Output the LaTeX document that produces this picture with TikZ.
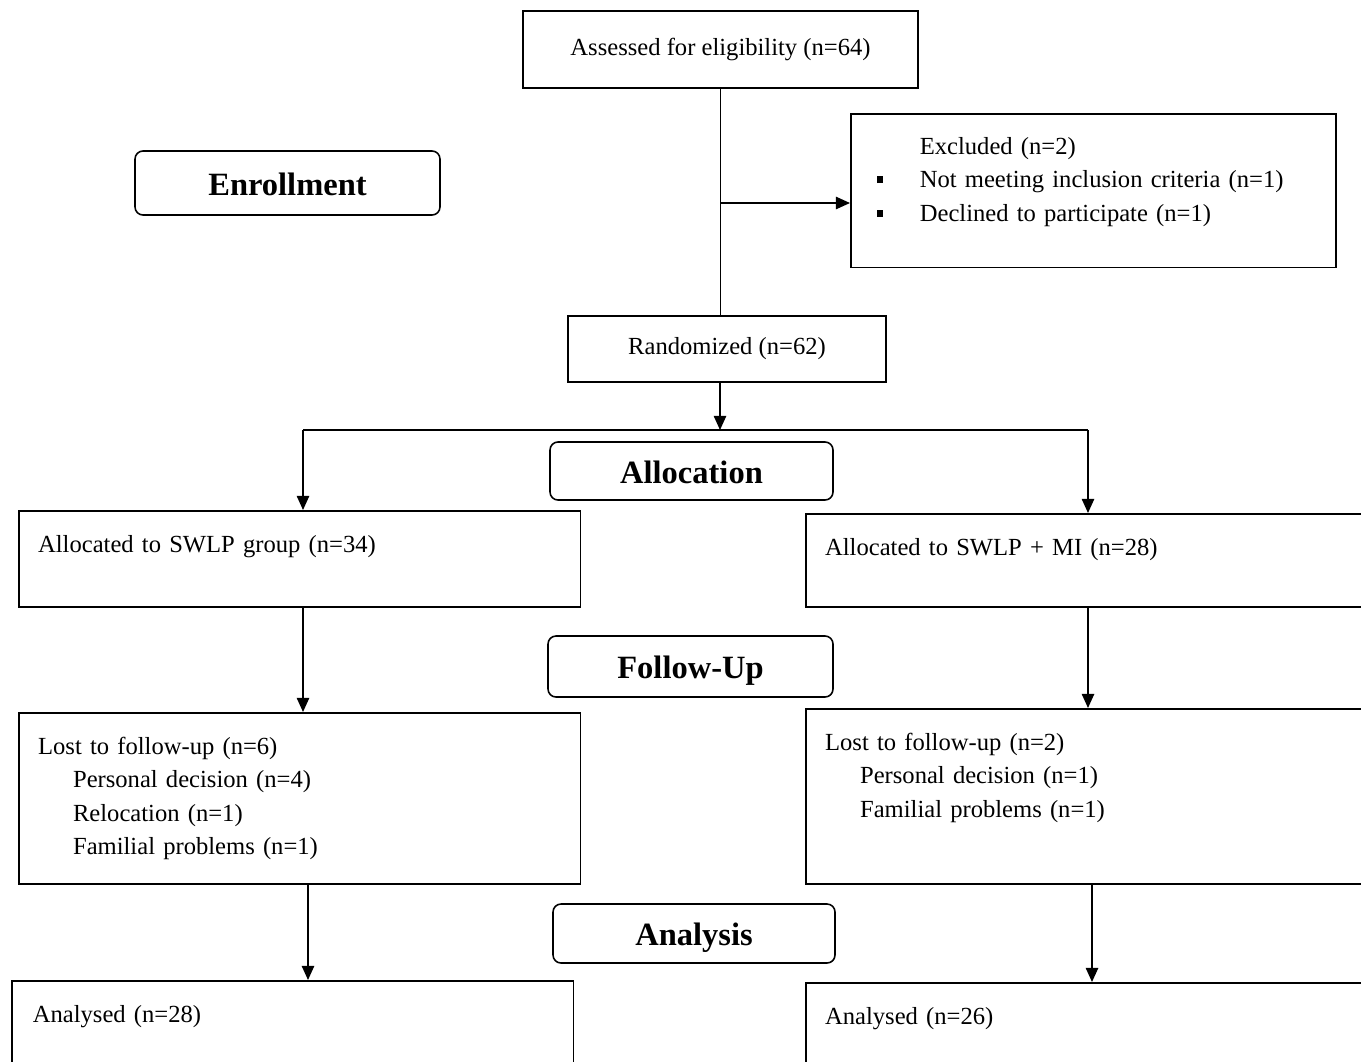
\documentclass[tikz,border=0pt]{standalone}
\usepackage{fontspec}
\setmainfont{Liberation Serif}
\usetikzlibrary{arrows.meta,
                positioning}
\tikzset{
        base/.style={draw, line width=0.9pt,
                     font=\fontsize{14}{19.1}\selectfont},
        proc/.style={base, rectangle, align=center},
        stage/.style={base, rectangle, rounded corners=4.5pt,
                      text height=14pt, text depth=0pt,
                      font=\fontsize{18.5}{22}\selectfont\bfseries},
        infobox/.style={base, rectangle, anchor=north west, align=left,
                        inner xsep=11pt, inner ysep=0pt, text height=23.5pt
                        },
        myarrow/.style={-{Triangle[width=7pt,length=8pt]}, line width=0.9pt},
        myline/.style={line width=0.9pt},
}
% kleines quadratisches Aufzaehlungszeichen
\newcommand{\sqbullet}{\makebox[24.5pt][l]{\raisebox{2.7pt}{\rule{3.8pt}{3.8pt}}}}
\newcommand{\indentitem}{\hspace*{19.9pt}}

\begin{document}
\begin{tikzpicture}[x=0.02cm, y=-0.02cm]
        \useasboundingbox (0,0) rectangle (1361,1061);
        \clip (0,0) rectangle (1361,1061);

        \node[proc, minimum width=7.9cm, minimum height=1.54cm]
              (assess) at (720.5,49.5) {Assessed for eligibility (n=64)};
        \node[stage, minimum width=6.1cm, minimum height=1.28cm]
              (enroll) at (287.5,183) {Enrollment};
        \node[infobox, inner xsep=14.8pt, text width=246.4pt,
              text height=23pt, text depth=64.6pt] (excl) at (850,113) {
              \hspace*{24.5pt}Excluded (n=2)\\
              \sqbullet Not meeting inclusion criteria (n=1)\\
              \sqbullet Declined to participate (n=1)};
        \node[proc, minimum width=6.36cm, minimum height=1.32cm]
              (rand) at (727,349) {Randomized (n=62)};

        \node[stage, minimum width=5.66cm, minimum height=1.16cm]
              (alloc) at (691.5,471) {Allocation};
        \node[infobox, text width=297.8pt, text depth=31.1pt]
              (swlp) at (18,510) {Allocated to SWLP group (n=34)};
        \node[infobox, text width=302.3pt, text depth=29.4pt]
              (swlpmi) at (805,513) {Allocated to SWLP + MI (n=28)};

        \node[stage, minimum width=5.7cm, minimum height=1.22cm]
              (follow) at (690.5,666.5) {Follow-Up};
        \node[infobox, text width=297.8pt, text depth=73.8pt]
              (lost1) at (18,712) {Lost to follow-up (n=6)\\
              \indentitem Personal decision (n=4)\\
              \indentitem Relocation (n=1)\\
              \indentitem Familial problems (n=1)};
        \node[infobox, text width=302.3pt, text depth=76.1pt]
              (lost2) at (805,708) {Lost to follow-up (n=2)\\
              \indentitem Personal decision (n=1)\\
              \indentitem Familial problems (n=1)};

        \node[stage, minimum width=5.64cm, minimum height=1.18cm]
              (analysis) at (694,933.5) {Analysis};
        \node[infobox, inner xsep=12pt, text width=295.8pt, text depth=30pt]
              (anal1) at (11,980) {Analysed (n=28)};
        \node[infobox, text width=302.3pt, text depth=30pt]
              (anal2) at (805,982) {Analysed (n=26)};

        \coordinate (branch) at (720,203);
        \coordinate (split) at (720,430);
        \coordinate (leftdrop) at (303,430);
        \coordinate (rightdrop) at (1088,430);
        \coordinate (colA) at (308,0);
        \coordinate (colB) at (1092,0);

        \draw[myline] (assess.south) -- (assess.south |- rand.north);
        \draw[myarrow] (branch) -- (branch -| excl.west);
        \draw[myarrow] (split |- rand.south) -- (split);
        \draw[myline] (leftdrop) -- (rightdrop);
        \draw[myarrow] (leftdrop) -- (leftdrop |- swlp.north);
        \draw[myarrow] (rightdrop) -- (rightdrop |- swlpmi.north);
        \draw[myarrow] (leftdrop |- swlp.south) -- (leftdrop |- lost1.north);
        \draw[myarrow] (rightdrop |- swlpmi.south) -- (rightdrop |- lost2.north);
        \draw[myarrow] (colA |- lost1.south) -- (colA |- anal1.north);
        \draw[myarrow] (colB |- lost2.south) -- (colB |- anal2.north);

\end{tikzpicture}
\end{document}
